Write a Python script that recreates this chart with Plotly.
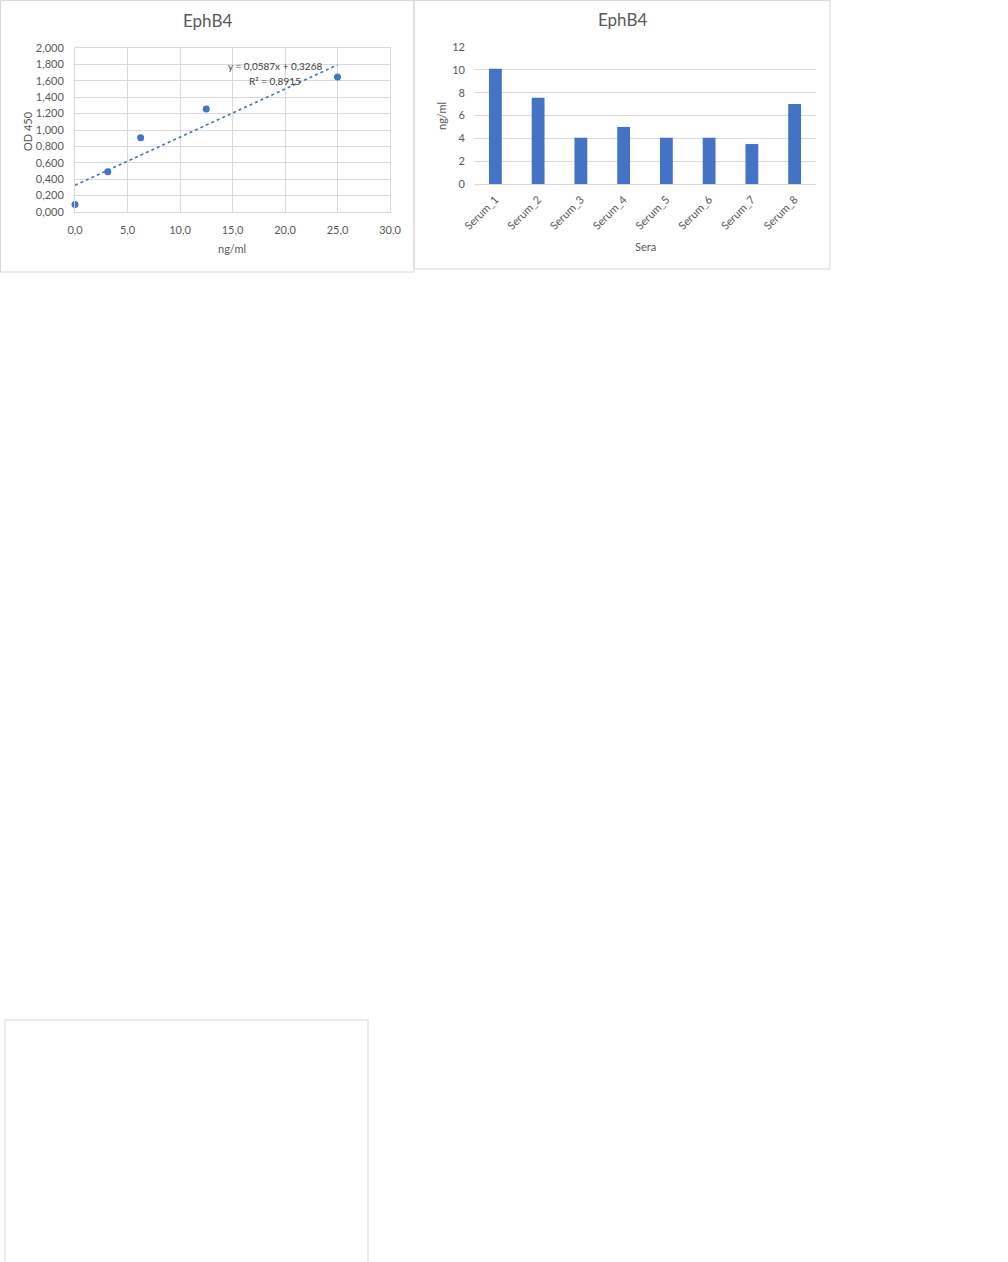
import plotly.graph_objects as go

W, H = 1008, 1262

# --- standard curve (left chart) ---
std_conc = [0.0, 3.125, 6.25, 12.5, 25.0]
std_od = [0.090, 0.490, 0.905, 1.255, 1.645]
trend_slope = 0.0587
trend_icept = 0.3268
trend_r2 = 0.8915

# --- sera (right chart) ---
sera = ["Serum_1", "Serum_2", "Serum_3", "Serum_4",
        "Serum_5", "Serum_6", "Serum_7", "Serum_8"]
sera_ngml = [10.1, 7.55, 4.05, 5.0, 4.05, 4.05, 3.5, 7.0]

BLUE = "#4472C4"
GRID = "#d9d9d9"
INK = "#595959"
FONT = "Lato, Liberation Sans, sans-serif"


def px_x(x):
    return x / W


def px_y(y):
    return 1 - y / H


trend_x = [min(std_conc), max(std_conc)]
trend_y = [trend_slope * x + trend_icept for x in trend_x]

fig = go.Figure()
fig.add_trace(go.Scatter(x=std_conc, y=std_od, mode="markers",
                         marker=dict(color=BLUE, size=7), cliponaxis=False,
                         xaxis="x", yaxis="y", showlegend=False))
fig.add_trace(go.Scatter(x=trend_x, y=trend_y, mode="lines",
                         line=dict(color=BLUE, width=1.6, dash="dot"),
                         xaxis="x", yaxis="y", showlegend=False))
fig.add_trace(go.Bar(x=sera, y=sera_ngml, marker=dict(color=BLUE, line_width=0),
                     xaxis="x2", yaxis="y2", showlegend=False))

tickfont = dict(family=FONT, size=11, color=INK)
common = dict(tickfont=tickfont, zeroline=False, automargin=False, ticks="")
fig.update_layout(
    template="none",
    width=W, height=H, autosize=False,
    margin=dict(l=0, r=0, t=0, b=0, pad=0, autoexpand=False),
    paper_bgcolor="white", plot_bgcolor="white",
    separators=",.", bargap=0.7,
    font=dict(family=FONT, color=INK),
    xaxis=dict(common, domain=[px_x(75), px_x(390)], range=[0, 30], dtick=5,
               tickformat=".1f", ticklabelstandoff=8,
               showgrid=True, gridcolor=GRID,
               showline=True, linecolor=GRID, mirror=True, anchor="y"),
    yaxis=dict(common, domain=[px_y(212), px_y(48)], range=[0, 2], dtick=0.2,
               tickformat=".3f", ticklabelstandoff=8,
               showgrid=True, gridcolor=GRID,
               showline=True, linecolor=GRID, mirror=True, anchor="x"),
    xaxis2=dict(common, domain=[px_x(474), px_x(816)], tickangle=-45,
                ticklabelstandoff=4, showgrid=False,
                showline=True, linecolor=GRID, anchor="y2"),
    yaxis2=dict(common, domain=[px_y(184), px_y(47)], range=[0, 12], dtick=2,
                ticklabelstandoff=8, showgrid=True, gridcolor=GRID,
                showline=False, anchor="x2"),
)

ann = []
# titles
ann.append(dict(text="EphB4", x=px_x(207), y=px_y(21), font=dict(size=17, color=INK)))
ann.append(dict(text="EphB4", x=px_x(622), y=px_y(20), font=dict(size=17, color=INK)))
# axis titles
ann.append(dict(text="ng/ml", x=px_x(232), y=px_y(249), font=dict(size=11, color=INK)))
ann.append(dict(text="OD 450", x=px_x(27), y=px_y(131), textangle=-90, font=dict(size=11, color=INK)))
ann.append(dict(text="Sera", x=px_x(645), y=px_y(246), font=dict(size=11, color=INK)))
ann.append(dict(text="ng/ml", x=px_x(441), y=px_y(116), textangle=-90, font=dict(size=11, color=INK)))
# trendline label
eq = f"y = {trend_slope:.4f}x + {trend_icept:.4f}".replace(".", ",")
r2 = f"R² = {trend_r2:.4f}".replace(".", ",")
ann.append(dict(text=eq, x=px_x(275), y=px_y(66), font=dict(size=10, color="#404040")))
ann.append(dict(text=r2, x=px_x(275), y=px_y(81), font=dict(size=10, color="#404040")))
for a in ann:
    a.update(xref="paper", yref="paper", showarrow=False, xanchor="center", yanchor="middle")
fig.update_layout(annotations=ann)

# chart frames
frame = dict(type="rect", xref="paper", yref="paper", line=dict(color=GRID, width=1),
             fillcolor="rgba(0,0,0,0)", layer="above")
fig.update_layout(shapes=[
    dict(frame, x0=px_x(0.5), x1=px_x(414), y0=px_y(272), y1=px_y(0.5)),
    dict(frame, x0=px_x(414), x1=px_x(830), y0=px_y(269), y1=px_y(0.5)),
    dict(frame, x0=px_x(5), x1=px_x(368), y0=px_y(1266), y1=px_y(1020)),
])

fig.write_html("out.html",
               config={"displayModeBar": False, "responsive": False},
               post_script="document.body.style.margin='0';")
